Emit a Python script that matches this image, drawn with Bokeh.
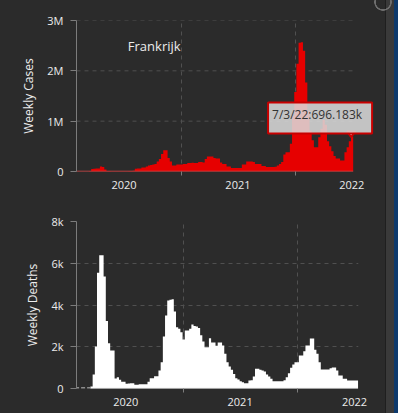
import re
import numpy as np
import pandas as pd
from bokeh.plotting import figure
from bokeh.layouts import column
from bokeh.models import Range1d, FixedTicker, DatetimeTickFormatter, Label
from bokeh.embed import file_html
from bokeh.resources import INLINE

# ---------------- data ----------------
country = "Frankrijk"
first_week = "2020-01-26"

weekly_cases = [
    0, 0, 0, 10, 50, 200, 1500, 8000,
    50000, 55000, 60000, 60000, 100000, 90000, 40000, 12000,
    8000, 6000, 5000, 4000, 4000, 4000, 4000, 5000,
    6000, 8000, 10000, 15000, 55000, 60000, 60000, 80000,
    80000, 100000, 120000, 130000, 140000, 150000, 200000, 250000,
    350000, 420000, 420000, 270000, 200000, 120000, 120000, 140000,
    140000, 140000, 150000, 150000, 170000, 168000, 172000, 170000,
    170000, 190000, 190000, 180000, 250000, 300000, 300000, 300000,
    270000, 260000, 260000, 180000, 150000, 150000, 100000, 100000,
    70000, 70000, 68000, 70000, 72000, 140000, 140000, 200000,
    200000, 200000, 190000, 150000, 150000, 150000, 110000, 110000,
    90000, 88000, 90000, 90000, 92000, 120000, 150000, 190000,
    340000, 380000, 380000, 550000, 1110000, 1580000, 2140000, 2560000,
    2570000, 2400000, 1770000, 1210000, 810000, 620000, 480000, 480000,
    680000, 850000, 1030000, 930000, 600000, 500000, 400000, 310000,
    260000, 260000, 220000, 220000, 380000, 480000, 600000, 696183,
]

weekly_deaths = [
    0, 0, 0, 0, 0, 0, 0, 100,
    670, 2010, 5550, 6380, 6380, 5370, 3230, 2170,
    1820, 1820, 480, 540, 420, 320, 320, 225,
    240, 255, 255, 180, 180, 205, 205, 205,
    205, 320, 495, 495, 590, 590, 860, 1260,
    2490, 3500, 4220, 4250, 4270, 3690, 2940, 2860,
    2700, 2350, 2780, 2780, 2860, 3070, 2990, 2970,
    2900, 2550, 2250, 1980, 1980, 2410, 2200, 2200,
    2050, 2200, 2200, 2060, 1660, 1260, 1055, 900,
    700, 495, 430, 350, 300, 255, 255, 385,
    400, 575, 945, 945, 900, 865, 815, 670,
    575, 465, 350, 350, 350, 350, 350, 400,
    540, 735, 990, 1150, 1260, 1260, 1580, 1580,
    1790, 2060, 2060, 2400, 2400, 1855, 1660, 1260,
    910, 910, 910, 910, 975, 1010, 1010, 865,
    625, 625, 465, 465, 385, 385, 385, 385,
    385,
]

cases_ticks = [0, 1000000, 2000000, 3000000]
cases_tick_labels = ["0", "1M", "2M", "3M"]
deaths_ticks = [0, 2000, 4000, 6000, 8000]
deaths_tick_labels = ["0", "2k", "4k", "6k", "8k"]
years = [2020, 2021, 2022]
year_labels = ["2020", "2021", "2022"]
tooltip_text = "7/3/22:696.183k"

# ---------------- style ----------------
BG = "#2b2b2b"
TXT = "#ececec"
AX = "#7c7c7c"
GRID = "#505050"
RED = "#e60000"
WHITE = "#ffffff"
FONT = "Open Sans"
DAY = 86400000.0
PAGE_BG = ("radial-gradient(circle at 383px 2px, rgba(0,0,0,0) 7px, #6e6e6e 7.5px, #6e6e6e 8.5px, "
           "rgba(0,0,0,0) 9px), "
           "linear-gradient(to right, #2b2b2b 0px, #2b2b2b 385px, #1f1f1f 385px, #1f1f1f 386px, "
           "#3a3a3a 386px, #3a3a3a 394px, #0e3a6c 394px)")


def ms(t):
    return pd.Timestamp(t).value / 1e6


t0 = ms(first_week)
cases_dates = pd.date_range(first_week, periods=len(weekly_cases), freq="7D")
deaths_dates = pd.date_range(first_week, periods=len(weekly_deaths), freq="7D")
mid_year = [int(ms(f"{y}-07-02")) for y in years]
jan1 = [int(ms(f"{y}-01-01")) for y in years + [years[-1] + 1]]


def step_xy(dates, vals):
    """weekly bars as one stepped area: left edges + final right edge"""
    xs = [ms(d) - 3.5 * DAY for d in dates] + [ms(dates[-1]) + 3.5 * DAY]
    ys = list(vals) + [vals[-1]]
    return xs, ys


def make_fig(frame_w, frame_h, borders, x_start, x_end, ticks, labels, ylabel, ygrid=True):
    l, r, t, b = borders
    p = figure(frame_width=frame_w, frame_height=frame_h,
               min_border_left=l, min_border_right=r, min_border_top=t, min_border_bottom=b,
               x_axis_type="datetime", x_range=Range1d(x_start, x_end),
               y_range=Range1d(ticks[0], ticks[-1]),
               output_backend="svg", toolbar_location=None,
               background_fill_color=None, border_fill_color=None, outline_line_color=None)
    xa = p.xaxis[0]
    xa.ticker = FixedTicker(ticks=mid_year, minor_ticks=jan1)
    xa.formatter = DatetimeTickFormatter(years="%Y", months="%Y", days="%Y")
    xa.major_label_overrides = {k: v for k, v in zip(mid_year, year_labels)}
    xa.major_tick_line_color = None
    xa.major_tick_out = 4
    xa.major_tick_in = 0
    xa.minor_tick_line_color = AX
    xa.minor_tick_out = 4
    xa.minor_tick_in = 0
    xa.axis_line_color = None
    xa.major_label_standoff = 5
    xa.major_label_text_color = TXT
    xa.major_label_text_font = FONT
    xa.major_label_text_font_size = "11px"
    ya = p.yaxis[0]
    ya.ticker = FixedTicker(ticks=ticks)
    ya.major_label_overrides = {k: v for k, v in zip(ticks, labels)}
    ya.axis_line_color = AX
    ya.major_tick_line_color = AX
    ya.major_tick_out = 6
    ya.major_tick_in = 0
    ya.minor_tick_line_color = None
    ya.major_label_standoff = 7
    ya.major_label_text_color = TXT
    ya.major_label_text_font = FONT
    ya.major_label_text_font_size = "11px"
    ya.axis_label = ylabel
    ya.axis_label_text_color = TXT
    ya.axis_label_text_font = FONT
    ya.axis_label_text_font_size = "12px"
    ya.axis_label_text_font_style = "normal"
    ya.axis_label_standoff = 7
    p.xgrid.ticker = FixedTicker(ticks=jan1)
    p.xgrid.grid_line_color = GRID
    p.xgrid.grid_line_dash = "4 4"
    if ygrid:
        p.ygrid.grid_line_color = GRID
        p.ygrid.grid_line_dash = "4 4"
    else:
        p.ygrid.grid_line_color = None
    return p


# ---------------- top: weekly cases ----------------
top_start = t0 + 5.45 * DAY
top_grid_end = t0 + 894.2 * DAY
# frame widened to the right so the tooltip box is not clipped
p1 = make_fig(304, 151, (76, 5, 20, 30), top_start, t0 + 980.1 * DAY,
              cases_ticks, cases_tick_labels, "Weekly Cases", ygrid=False)
p1.segment(x0=[top_start] * (len(cases_ticks) - 1), x1=[top_grid_end] * (len(cases_ticks) - 1),
           y0=cases_ticks[1:], y1=cases_ticks[1:],
           line_color=GRID, line_dash="4 4", line_width=1)

xs1, ys1 = step_xy(cases_dates, weekly_cases)
p1.varea_step(x=xs1, y1=np.zeros(len(xs1)), y2=ys1, step_mode="after", fill_color=RED)
p1.line(x=[xs1[0], xs1[-1]], y=[0, 0], line_color="#d84a4a", line_width=1.5)

p1.add_layout(Label(x=t0 + 254.6 * DAY, y=cases_ticks[-1] * 5 / 6, text=country,
                    text_align="center", text_baseline="middle",
                    text_color=TXT, text_font=FONT, text_font_size="13px"))

last_d = ms(cases_dates[-1])
last_v = weekly_cases[-1]
ptr_h = 100000
p1.patch(x=[last_d - 16 * DAY, last_d - 3 * DAY, last_d + 10 * DAY],
         y=[last_v + ptr_h, last_v - 15000, last_v + ptr_h],
         fill_color="#dcdcdc", fill_alpha=0.92, line_color="#c80000", line_width=2)
p1.add_layout(Label(x=last_d, y=last_v + ptr_h, text=tooltip_text,
                    text_align="center", text_baseline="bottom",
                    x_offset=-32, y_offset=-2,
                    text_color="#333333", text_font=FONT, text_font_size="12px",
                    background_fill_color="#dcdcdc", background_fill_alpha=0.86,
                    border_line_color="#c80000", border_line_width=2,
                    padding=(4, 10, 4, 10)))

# ---------------- bottom: weekly deaths ----------------
p2 = make_fig(282, 167, (72, 31, 20, 25), t0 + 1.0 * DAY, t0 + 900.8 * DAY,
              deaths_ticks, deaths_tick_labels, "Weekly Deaths")
xs2, ys2 = step_xy(deaths_dates, weekly_deaths)
p2.varea_step(x=xs2, y1=np.zeros(len(xs2)), y2=ys2, step_mode="after", fill_color=WHITE)

zero_d = [ms(d) for d, v in zip(deaths_dates, weekly_deaths) if v == 0]
nz_d = [ms(d) for d, v in zip(deaths_dates, weekly_deaths) if v != 0]
p2.line(x=[zero_d[0] - 3.5 * DAY, zero_d[-1] + 3.5 * DAY], y=[0, 0],
        line_color="#8c8c8c", line_width=3, line_dash="4 2")
p2.line(x=[nz_d[0] - 3.5 * DAY, nz_d[-1] + 3.5 * DAY], y=[0, 0],
        line_color="#e6e6e6", line_width=1.5)

layout = column(p1, p2)

html = file_html(layout, INLINE, title="Frankrijk")
page_css = ("<style>html, body { background: %s !important; background-color: %s; "
            "overflow: hidden; }</style>" % (PAGE_BG, BG))
if "</head>" in html:
    html = html.replace("</head>", page_css + "\n</head>", 1)
else:
    html = page_css + html
html = re.sub(r"<body([^>]*)>", lambda m: '<body%s style="background: %s; overflow: hidden;">'
              % (m.group(1), PAGE_BG), html, count=1)
open("out.html", "w").write(html)
